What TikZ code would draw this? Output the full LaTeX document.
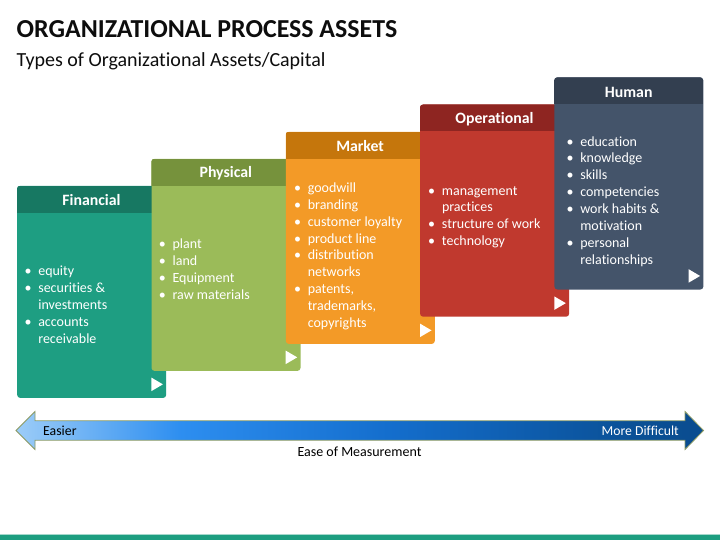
\documentclass[tikz,border=0pt]{standalone}
\usepackage{fontspec}
\setmainfont{Carlito}[Ligatures=NoCommon]
\usetikzlibrary{calc}
\definecolor{finB}{HTML}{1E9E82}\definecolor{finH}{HTML}{177862}
\definecolor{phyB}{HTML}{9BBB59}\definecolor{phyH}{HTML}{76923C}
\definecolor{marB}{HTML}{F39A27}\definecolor{marH}{HTML}{C5760C}
\definecolor{opeB}{HTML}{C0392E}\definecolor{opeH}{HTML}{8E2521}
\definecolor{humB}{HTML}{44546A}\definecolor{humH}{HTML}{333F50}
\definecolor{band}{HTML}{1D9E80}
\definecolor{arrline}{HTML}{8C9A63}
\definecolor{titlec}{HTML}{0D0D0D}
\definecolor{gA}{RGB}{184,220,250}
\definecolor{gB}{RGB}{45,142,240}
\definecolor{gC}{RGB}{20,110,205}
\definecolor{gD}{RGB}{10,80,150}
\definecolor{gE}{RGB}{10,58,108}
\pgfdeclarehorizontalshading{measure}{100bp}{
 color(0bp)=(gA); color(22bp)=(gA); color(37bp)=(gB); color(52bp)=(gC);
 color(70bp)=(gD); color(100bp)=(gE)}
\tikzset{
 boxbody/.style={rounded corners=3pt, inner sep=0pt, minimum width=149pt, minimum height=212pt, anchor=north west},
 headtxt/.style={text=white, font=\fontsize{15.8}{18}\selectfont\bfseries},
 lst/.style={text=white, font=\fontsize{14}{16.85}\selectfont, inner sep=0pt, anchor=base west},
 tri/.style={fill=white}
}
\newcommand{\bl}[1]{\begin{tabular}[t]{@{}p{13.8pt}@{}l@{}}#1\end{tabular}}
\newcommand{\assetbox}[7]{%
 \node[boxbody, fill=#4] (#1) at (#2,#3) {};
 \begin{scope}
  \clip[rounded corners=3pt] (#2,#3) rectangle ++(149,212);
  \fill[#5] (#2,#3) rectangle ++(149,27);
 \end{scope}
 \node[headtxt] (#1-t) at ($(#2,#3)+(74.5,14.8)$) {#6};
 \fill[tri] ($(#1.south east)+(-15,-20.5)$) -- ($(#1.south east)+(-15,-7)$) -- ($(#1.south east)+(-3.5,-13.75)$) -- cycle;
 #7
}
\begin{document}
\begin{tikzpicture}[x=1pt,y=-1pt]
\useasboundingbox (0,0) rectangle (720,540);
\fill[white] (0,0) rectangle (720,540);
% title
\node[anchor=base west, inner sep=0, text=titlec, font=\fontsize{25.9}{30}\selectfont\bfseries] (title) at (16.5,38) {ORGANIZATIONAL PROCESS ASSETS};
\node[anchor=base west, inner sep=0, text=titlec, font=\fontsize{20}{24}\selectfont] (sub) at (16.5,66.5) {Types of Organizational Assets/Capital};
% boxes
\assetbox{fin}{17}{185.7}{finB}{finH}{Financial}{%
 \node[lst] (finl) at (24.3,275.6) {\bl{\textbullet & equity\\ \textbullet & securities \&\\ & investments\\ \textbullet & accounts\\ & receivable}};}
\assetbox{phy}{151.3}{158.7}{phyB}{phyH}{Physical}{%
 \node[lst] (phyl) at (158.6,248.9) {\bl{\textbullet & plant\\ \textbullet & land\\ \textbullet & Equipment\\ \textbullet & raw materials}};}
\assetbox{mar}{285.6}{131.7}{marB}{marH}{Market}{%
 \node[lst] (marl) at (293.8,192.6) {\bl{\textbullet & goodwill\\ \textbullet & branding\\ \textbullet & customer loyalty\\ \textbullet & product line\\ \textbullet & distribution\\ & networks\\ \textbullet & patents,\\ & trademarks,\\ & copyrights}};}
\assetbox{ope}{419.9}{104.5}{opeB}{opeH}{Operational}{%
 \node[lst] (opel) at (428,195.1) {\bl{\textbullet & management\\ & practices\\ \textbullet & structure of work\\ \textbullet & technology}};}
\assetbox{hum}{554.2}{77.3}{humB}{humH}{Human}{%
 \node[lst] (huml) at (566.3,146.1) {\bl{\textbullet & education\\ \textbullet & knowledge\\ \textbullet & skills\\ \textbullet & competencies\\ \textbullet & work habits \&\\ & motivation\\ \textbullet & personal\\ & relationships}};}
% measurement arrow
\coordinate (lt) at (16,430.5);
\coordinate (rt) at (703.5,430.5);
\shade[shading=measure, draw=arrline, line width=0.8pt]
 (lt) -- (35,411.5) -- (35,420.8) -- (685,420.8) -- (685,411.5) -- (rt)
 -- (685,449.5) -- (685,440.2) -- (35,440.2) -- (35,449.5) -- cycle;
\node[anchor=base west, inner sep=0, font=\fontsize{13.8}{16}\selectfont, text=black] (easy) at (43,435.3) {Easier};
\node[anchor=base east, inner sep=0, font=\fontsize{13.7}{16}\selectfont, text=white] (hard) at (679,435.3) {More Difficult};
\node[anchor=base, inner sep=0, font=\fontsize{14}{16}\selectfont, text=black] (eom) at (359.5,456) {Ease of Measurement};
% bottom band
\fill[band!40] (0,533.8) rectangle (720,534.8);
\fill[band] (0,534.8) rectangle (720,540);
\end{tikzpicture}
\end{document}
